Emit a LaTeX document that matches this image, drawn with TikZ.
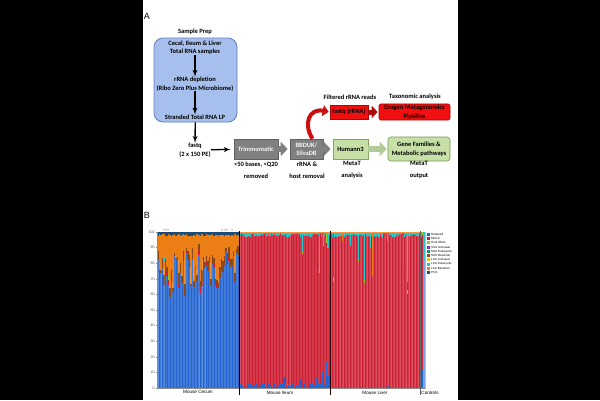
\documentclass[tikz,border=0pt]{standalone}
\usepackage{fontspec}
\setmainfont{Carlito}
\newfontfamily\chartfont{Liberation Sans}
\usetikzlibrary{shapes,arrows,arrows.meta}
\definecolor{prepblue}{RGB}{166,191,236}
\definecolor{prepedge}{RGB}{98,128,196}
\definecolor{toolgray}{RGB}{128,128,128}
\definecolor{tooledge}{RGB}{96,96,96}
\definecolor{humgreen}{RGB}{198,224,168}
\definecolor{humedge}{RGB}{128,168,92}
\definecolor{rrnared}{RGB}{240,16,16}
\definecolor{rrnaedge}{RGB}{170,10,10}
\definecolor{cblue}{RGB}{34,100,208}
\definecolor{cred}{RGB}{206,32,52}
\definecolor{cgreen}{RGB}{150,200,40}
\definecolor{cpurple}{RGB}{120,50,190}
\definecolor{cteal}{RGB}{20,140,120}
\definecolor{cbrown}{RGB}{140,72,22}
\definecolor{cyellow}{RGB}{230,200,0}
\definecolor{ccyan}{RGB}{32,200,206}
\definecolor{corange}{RGB}{236,126,22}
\definecolor{cdark}{RGB}{26,76,122}
\tikzstyle{bluebox} = [rectangle, rounded corners=9pt, draw=prepedge,
    fill=prepblue, line width=0.8pt]
\tikzstyle{graybox} = [rectangle, draw=tooledge, fill=toolgray, text=white!92!gray,
    font=\bfseries\fontsize{6.5}{7.5}\selectfont, minimum height=20pt,
    align=center, inner sep=1pt, line width=0.6pt]
\tikzstyle{greenbox} = [rectangle, draw=humedge, fill=humgreen,
    font=\bfseries\fontsize{6.5}{8.5}\selectfont, minimum height=20pt,
    align=center, inner sep=1pt, line width=0.6pt]
\tikzstyle{redbox} = [rectangle, draw=rrnaedge, fill=rrnared,
    font=\bfseries\fontsize{6.5}{8.5}\selectfont,
    align=center, inner sep=1pt, line width=0.6pt]
\tikzstyle{noblock} = [align=center, font=\bfseries\fontsize{6.5}{8.5}\selectfont, inner sep=0pt]
\tikzstyle{sublabel} = [noblock, font=\bfseries\fontsize{6.5}{11.7}\selectfont]
\tikzstyle{panel} = [font=\chartfont\fontsize{9}{9}\selectfont, inner sep=0pt]
\tikzstyle{line} = [draw, line width=1.3pt, -latex']
\tikzstyle{fatgray} = [draw=toolgray, line width=6pt, -{Triangle[length=7pt,width=14pt]}]
\tikzstyle{fatgreen} = [draw=humgreen!90!black, line width=6pt, -{Triangle[length=7pt,width=14pt]}]
\tikzstyle{fatred} = [draw=rrnaedge, line width=5pt, -{Triangle[length=6pt,width=12pt]}]
\tikzstyle{curvered} = [draw=rrnared!85!black, line width=4pt, -{Triangle[length=6pt,width=11pt]}]
\tikzstyle{axislabel} = [font=\chartfont\fontsize{3.6}{4}\selectfont, text=black!70, inner sep=0.6pt]
\tikzstyle{grouplabel} = [font=\chartfont\fontsize{4.6}{5}\selectfont, inner sep=0pt]
\tikzstyle{legendtext} = [font=\chartfont\fontsize{3}{3.5}\selectfont, inner sep=0pt, anchor=west]

\begin{document}
\begin{tikzpicture}[x=1pt, y=-1pt]
\useasboundingbox (0,0) rectangle (600,400);
\fill[black] (0,0) rectangle (143,400);
\fill[black] (458,0) rectangle (600,400);

    % Panel A: place nodes
\node[panel] (pa) at (147,16) {A};
\node[noblock] (sp) at (195,32) {Sample Prep};
\node[bluebox, minimum width=83pt, minimum height=84pt] (prep) at (195.5,80) {};
\node[noblock] (I1) at (195,47.5) {Cecal, Ileum \& Liver\\Total RNA samples};
\node[noblock] (I2) at (195,84) {rRNA depletion\\(Ribo Zero Plus Microbiome)};
\node[noblock] (I3) at (195,117) {Stranded Total RNA LP};
\node[noblock] (fq) at (195,150) {fastq\\(2 x 150 PE)};
\node[graybox, minimum width=44pt] (trim) at (256,149) {Trimmomatic};
\node[graybox, minimum width=33pt] (bbduk) at (306.5,149) {BBDUK/\\SilvaDB};
\node[greenbox, minimum width=35pt] (hum) at (350.5,149) {Humann3};
\node[greenbox, rounded corners=3pt, draw=humedge!90!black, minimum width=62pt,
    minimum height=24pt] (gf) at (419,149) {Gene Families \&\\Metabolic pathways};
\node[redbox, minimum width=38pt, minimum height=14pt] (fr) at (349,112) {fastq (rRNA)};
\node[redbox, rounded corners=2pt, minimum width=71pt, minimum height=16pt] (dr)
    at (414.5,112) {Dragen Metagenomics\\Pipeline};
\node[noblock] (t1) at (350,97) {Filtered rRNA reads};
\node[noblock] (t2) at (415,97) {Taxonomic analysis};
\node[sublabel] (b1) at (256,170) {<50 bases, <Q20\\removed};
\node[sublabel] (b2) at (307,170) {rRNA \&\\host removal};
\node[sublabel] (b3) at (352,170) {MetaT\\analysis};
\node[sublabel] (b4) at (419,170) {MetaT\\output};

    % Panel A: draw edges
\path [line] (I1) -- (I2);
\path [line] (I2) -- (I3);
\path [line] (prep) -- (fq);
\path [line, shorten >=3pt] (fq) -- (trim);
\path [fatgray, shorten >=2pt] (trim) -- (bbduk);
\path [fatgray, shorten >=2pt] (bbduk) -- (hum);
\path [fatgreen, shorten >=1pt] (hum) -- (gf);
\path [fatred, shorten >=1pt] (fr) -- (dr);
\path [curvered, shorten >=1pt] ([xshift=6pt]bbduk.north) .. controls (303,124) and (309,108) .. (fr.west);

    % Panel B
\node[panel] (pb) at (147,215) {B};
\begin{scope}[shift={(0,388)}, y=1.56pt]
\pgfmathsetseed{17}
\draw[black!25, line width=0.3pt] (157,0) rectangle (425,100);
% mouse cecum
\fill[corange] (157,0) rectangle (239,100);
\foreach \i in {0,...,53} {
  \pgfmathsetmacro\xa{157+\i*1.5185}
  \pgfmathsetmacro\hb{58+29*rnd}
  \pgfmathsetmacro\hr{max(0,14*rnd-9.5)}
  \pgfmathsetmacro\hw{1+7*rnd}
  \pgfmathsetmacro\hd{98.7-1.2*rnd}
  \filldraw[fill=cblue, draw=white, draw opacity=0.15, line width=0.2pt] (\xa,0) rectangle (\xa+1.5185,\hb);
  \fill[cred] (\xa,\hb) rectangle (\xa+1.5185,\hb+\hr);
  \fill[cbrown] (\xa,\hb+\hr) rectangle (\xa+1.5185,\hb+\hr+\hw);
  \fill[cdark] (\xa,\hd) rectangle (\xa+1.5185,100);
}
\fill[ccyan] (163.1,81) rectangle (164.6,84);
\fill[cgreen] (167.6,70) rectangle (169.1,73);
% mouse ileum
\fill[cred] (239,0) rectangle (330,100);
\foreach \i in {0,...,59} {
  \pgfmathsetmacro\xa{239+\i*1.5167}
  \pgfmathsetmacro\hb{0.3+2.8*rnd+(\i>52)*3*rnd}
  \pgfmathsetmacro\hc{0.6+2.6*rnd}
  \filldraw[fill=cred, draw=white, draw opacity=0.12, line width=0.2pt] (\xa,\hb) rectangle (\xa+1.5167,100-\hc);
  \fill[cblue] (\xa,0) rectangle (\xa+1.5167,\hb);
  \fill[ccyan] (\xa,100-\hc) rectangle (\xa+1.5167,100);
}
\fill[corange!80] (239,99.5) rectangle (330,100);
\foreach \xs/\lo/\cl in {301.5/86/ccyan, 318.8/74/ccyan, 322.5/91/ccyan, 325.6/93/cgreen, 327.1/90/ccyan} {
  \fill[\cl] (\xs,\lo) rectangle (\xs+1.52,99);
}
\fill[cgreen] (301.5,86) rectangle (303,87);
\fill[cgreen] (318.8,74) rectangle (320.3,76);
\foreach \xs/\hb in {283/7, 300/5, 316/7, 322/10, 325.5/17, 327/8} {
  \fill[cblue] (\xs,0) rectangle (\xs+1.52,\hb);
}
% mouse liver
\fill[cred] (330,0) rectangle (420,100);
\foreach \i in {0,...,59} {
  \pgfmathsetmacro\xa{330+\i*1.5}
  \pgfmathsetmacro\hb{max(0,2.2*rnd-1.2)}
  \pgfmathsetmacro\hc{0.5+2.8*rnd}
  \filldraw[fill=cred, draw=white, draw opacity=0.12, line width=0.2pt] (\xa,\hb) rectangle (\xa+1.5,100-\hc);
  \fill[cblue] (\xa,0) rectangle (\xa+1.5,\hb);
  \fill[ccyan] (\xa,100-\hc) rectangle (\xa+1.5,100);
}
\fill[corange!80] (330,99.5) rectangle (420,100);
\foreach \xs/\lo/\cl in {332.5/68/cteal, 341.5/94/corange, 349.5/91/ccyan, 357.5/81/ccyan,
    363.5/67/ccyan, 369.5/90/ccyan, 371.5/72/corange, 386.5/94/corange, 406.5/60/ccyan} {
  \fill[\cl] (\xs,\lo) rectangle (\xs+1.5,98.5);
}
\fill[cgreen] (332.5,68) rectangle (334,71);
\fill[cgreen] (357.5,81) rectangle (359,83);
\fill[cgreen] (363.5,67) rectangle (365,70);
\fill[cbrown] (406.5,62) rectangle (408,68);
\fill[cgreen] (406.5,60) rectangle (408,63);
\fill[corange] (406.5,68) rectangle (408,78);
\fill[cblue] (406.5,0) rectangle (408,6);
% controls
\fill[cred] (420,0) rectangle (421.7,97);
\fill[ccyan] (420,97) rectangle (421.7,100);
\fill[cblue] (421.7,0) rectangle (423.4,12);
\fill[cred] (421.7,12) rectangle (423.4,98);
\fill[cgreen] (421.7,98) rectangle (423.4,100);
\fill[cblue!60] (423.4,0) rectangle (425,82);
\fill[ccyan] (423.4,82) rectangle (425,100);
% top marks
\foreach \xs in {164,166,168,222,225,227,232} {
  \fill[black] (\xs,101.3) circle (0.5pt);
}
% axes
\draw[black!45, line width=0.3pt] (157,0) -- (157,100);
\draw[black!45, line width=0.3pt] (157,0) -- (425,0);
\foreach \v in {0,10,...,100} {
  \draw[black!45, line width=0.3pt] (155.5,\v) -- (157,\v);
  \node[axislabel, anchor=east] (tick\v) at (155.5,\v) {\v};
}
\draw[black, line width=0.6pt] (239,-4.5) -- (239,100.5);
\draw[black!85!red, line width=0.9pt] (330,-4.5) -- (330,100.5);
\draw[black!60, line width=0.4pt] (420,-4.5) -- (420,100.5);
\node[grouplabel] (g1) at (198,-2.8) {Mouse Cecum};
\node[grouplabel] (g2) at (280,-2.8) {Mouse Ileum};
\node[grouplabel] (g3) at (375,-2.8) {Mouse Liver};
\node[grouplabel] (g4) at (430,-2.8) {Controls};
\end{scope}
% legend
\foreach \k/\cl/\txt in {0/cblue/Retained, 1/cred/Mm10, 2/cgreen/Host rRNA,
    3/cpurple/SSU Archaeal, 4/cteal/SSU Eukaryotic, 5/cbrown/SSU Bacterial,
    6/cyellow/LSU Archaeal, 7/ccyan/LSU Eukaryotic, 8/corange/LSU Bacterial, 9/cdark/PhiX} {
  \fill[\cl] (427,232.6+\k*4.3) rectangle (430,235.6+\k*4.3);
  \node[legendtext] (leg\k) at (431,234.1+\k*4.3) {\txt};
}
\end{tikzpicture}
\end{document}
